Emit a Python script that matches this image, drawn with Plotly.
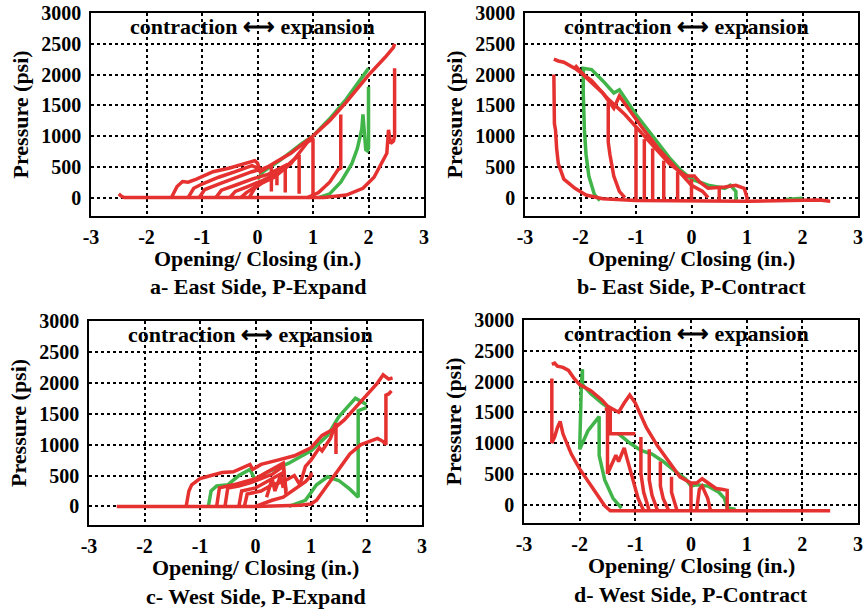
import plotly.graph_objects as go

# ---------------------------------------------------------------------------
# Axis ticks
X_TICKS = [-3, -2, -1, 0, 1, 2, 3]
X_TICK_TEXT = ["-3", "-2", "-1", "0", "1", "2", "3"]
Y_TICKS = [0, 500, 1000, 1500, 2000, 2500, 3000]
Y_TICK_TEXT = ["0", "500", "1000", "1500", "2000", "2500", "3000"]

# ---------------------------------------------------------------------------
# a- East Side, P-Expand : opening/closing (in.) vs pressure (psi)
EAST_EXPAND_GREEN = [
    ([0.0, 0.1, 0.4, 0.8, 1.0, 1.3, 1.6, 1.8, 1.95, 2.0],
     [300, 420, 600, 880, 1000, 1280, 1600, 1850, 2050, 2100]),
    ([1.1, 1.3, 1.5, 1.7, 1.8, 1.85, 1.88, 1.9, 1.92, 1.95, 1.98, 2.0, 2.0],
     [0, 60, 250, 550, 800, 1050, 1120, 1350, 1100, 780, 760, 800, 1800]),
]
EAST_EXPAND_RED = [
    ([-2.5, -2.45, -2.4, 1.2, 1.6, 1.9, 2.1, 2.25, 2.33, 2.36, 2.4, 2.45, 2.47, 2.47],
     [60, 20, 0, 0, 40, 150, 330, 600, 720, 1100, 880, 920, 1000, 2100]),
    ([-1.55, -1.45, -1.35, -1.25, -1.1, -0.8, -0.5, -0.2, -0.05, 0.0, 0.05, 0.3, 0.6,
      1.0, 1.3, 1.6, 2.0, 2.3, 2.45, 2.47],
     [0, 180, 260, 250, 300, 420, 480, 560, 600, 560, 420, 560, 720,
      1000, 1250, 1550, 1990, 2280, 2440, 2500]),
    ([-1.25, -1.15, -1.0, -0.7, -0.4, -0.1, 0.0],
     [0, 150, 220, 330, 420, 520, 480]),
    ([-1.05, -0.95, -0.7, -0.4, -0.1, 0.1, 0.25, 0.25],
     [0, 130, 220, 320, 420, 470, 520, 100]),
    ([-0.75, -0.65, -0.4, -0.1, 0.2, 0.5, 0.5],
     [0, 120, 200, 300, 380, 520, 80]),
    ([-0.5, -0.4, -0.2, 0.1, 0.4, 0.75, 0.75],
     [0, 100, 170, 280, 420, 690, 60]),
    ([-0.3, -0.2, 0.0, 0.3, 0.6, 0.9, 1.0, 1.0],
     [0, 80, 200, 330, 550, 900, 960, 0]),
    ([-0.15, -0.05, 0.1, 0.3, 0.35, 0.35],
     [0, 150, 250, 330, 360, 200]),
    ([0.9, 1.1, 1.3, 1.45, 1.5, 1.5],
     [0, 80, 250, 450, 480, 1350]),
]

# b- East Side, P-Contract
EAST_CONTRACT_GREEN = [
    ([-1.65, -1.75, -1.85, -1.9, -1.93, -1.95, -1.95, -1.95, -1.8, -1.6, -1.4, -1.3,
      -1.0, -0.7, -0.4, -0.2, 0.0, 0.3, 0.6, 0.7, 0.8, 0.8],
     [-50, 50, 350, 700, 1100, 1500, 1700, 2100, 2080, 1900, 1700, 1750,
      1350, 1000, 650, 450, 300, 200, 150, 200, 100, -50]),
    ([1.7, 2.0], [-30, -10]),
]
EAST_CONTRACT_RED = [
    ([2.5, 2.3, 1.0, 0.0, -1.0, -1.6, -1.9, -2.1, -2.3, -2.4, -2.43, -2.45, -2.47, -2.48],
     [-60, -40, -60, -60, -50, -20, 40, 150, 300, 550, 800, 1100, 1200, 2000]),
    ([-2.48, -2.4, -2.3, -2.1, -1.8, -1.5, -1.2, -1.0, -0.7, -0.4, -0.1, 0.05, 0.15,
      0.3, 0.6, 0.8, 0.95, 1.0, 1.0],
     [2250, 2220, 2200, 2100, 1900, 1600, 1350, 1150, 850, 550, 350, 350, 250,
      150, 170, 200, 150, 0, -60]),
    ([-2.1, -1.9, -1.6, -1.4, -1.35, -1.3, -1.1, -0.9, -0.6, -0.3, -0.1, 0.0, 0.2, 0.3],
     [2150, 1950, 1700, 1450, 1550, 1650, 1400, 1150, 800, 500, 300, 200, 100, 0]),
    ([-1.5, -1.5, -1.47, -1.4, -1.3, -1.2],
     [1550, 900, 700, 350, 100, 0]),
    ([-1.0, -1.0], [1150, -50]),
    ([-0.85, -0.85], [950, -50]),
    ([-0.7, -0.7], [800, -50]),
    ([-0.5, -0.5], [600, -50]),
    ([-0.25, -0.25], [420, -50]),
    ([0.0, 0.0], [300, -50]),
    ([0.5, 0.5], [150, -50]),
]

# c- West Side, P-Expand
WEST_EXPAND_GREEN = [
    ([-0.85, -0.8, -0.7, -0.5, -0.3, -0.1, 0.0, 0.2, 0.6, 1.0, 1.3, 1.5, 1.7, 1.8, 1.9, 2.0],
     [0, 250, 330, 350, 500, 600, 420, 550, 700, 900, 1150, 1450, 1650, 1750, 1700, 1650]),
    ([0.6, 0.9, 1.1, 1.3, 1.5, 1.7, 1.85, 1.85, 2.0],
     [0, 100, 350, 480, 420, 280, 150, 1550, 1600]),
]
WEST_EXPAND_RED = [
    ([-2.5, -1.2, 0.0, 0.8, 1.0, 1.1, 1.3, 1.5, 1.7, 1.9, 2.1, 2.2, 2.3, 2.35, 2.35, 2.4, 2.45],
     [0, 0, 0, 20, 40, 100, 350, 600, 850, 1000, 1070, 1100, 1050, 1000, 1800, 1820, 1870]),
    ([-1.25, -1.2, -1.15, -1.0, -0.8, -0.6, -0.4, -0.2, -0.1, -0.05, 0.1, 0.4, 0.7,
      1.0, 1.2, 1.4, 1.6, 1.8, 2.0, 2.2, 2.3, 2.4, 2.47],
     [0, 250, 350, 450, 500, 550, 560, 650, 680, 600, 680, 750, 820,
      950, 1150, 1250, 1400, 1600, 1800, 2000, 2130, 2060, 2080]),
    ([-0.7, -0.65, -0.4, -0.2, 0.0, 0.3, 0.5, 0.55],
     [0, 300, 350, 400, 450, 600, 700, 250]),
    ([-0.55, -0.5, -0.3, -0.1, 0.1, 0.3, 0.5, 0.55],
     [0, 300, 330, 380, 450, 520, 650, 200]),
    ([-0.3, -0.25, 0.0, 0.2, 0.4, 0.5],
     [0, 250, 300, 400, 500, 550]),
    ([-0.2, -0.15, 0.1, 0.3, 0.5, 0.7, 0.8, 0.9, 1.0, 1.15, 1.2, 1.35, 1.45, 1.45],
     [0, 200, 250, 350, 400, 500, 350, 650, 750, 950, 900, 1100, 1350, 850]),
    ([0.0, 0.3, 0.5, 0.7, 0.9, 1.0, 1.0],
     [0, 100, 150, 280, 400, 500, 550]),
    ([0.2, 0.3, 0.35, 0.45, 0.5],
     [150, 450, 250, 500, 300]),
]

# d- West Side, P-Contract
WEST_CONTRACT_GREEN = [
    ([-1.95, -1.8, -1.6, -1.45],
     [1950, 1800, 1650, 1550]),
    ([-1.95, -1.95, -1.97, -2.0, -1.85, -1.65, -1.65, -1.55, -1.4, -1.25],
     [1900, 2200, 1950, 900, 1200, 1430, 800, 400, 100, -60]),
    ([-1.3, -1.1, -0.9, -0.7, -0.5, -0.3, -0.1, 0.0, 0.1, 0.3, 0.5, 0.6, 0.65, 0.8],
     [1150, 1000, 880, 820, 700, 550, 420, 300, 320, 300, 200, 100, -50, -80]),
]
WEST_CONTRACT_RED = [
    ([2.5, 0.0, -1.45, -1.55, -1.7, -1.85, -2.0, -2.15, -2.3, -2.35, -2.4, -2.45, -2.5, -2.5],
     [-100, -100, -100, -20, 180, 400, 580, 820, 1150, 1350, 1250, 1100, 1000, 2050]),
    ([-2.5, -2.45, -2.4, -2.3, -2.2, -2.1, -2.0, -1.8, -1.6, -1.5, -1.4, -1.3, -1.2, -1.1,
      -1.0, -0.9, -0.8, -0.6, -0.4, -0.2, 0.0, 0.1, 0.2, 0.3, 0.45, 0.55, 0.65, 0.65],
     [2280, 2300, 2250, 2230, 2180, 2050, 1950, 1850, 1700, 1600, 1550, 1500, 1650, 1780,
      1650, 1450, 1250, 950, 700, 450, 350, 350, 420, 350, 260, 250, 230, -100]),
    ([-1.45, -1.45, -1.3, -1.1, -1.0],
     [1550, 1150, 1150, 1150, 1150]),
    ([-1.55, -1.5, -1.5, -1.35, -1.3, -1.2, -1.15, -1.05, -0.95, -0.85],
     [1550, 1550, 500, 800, 700, 920, 750, 400, 100, -100]),
    ([-0.9, -0.9, -0.85, -0.75],
     [1100, 500, 200, -100]),
    ([-0.75, -0.75, -0.7, -0.6],
     [900, 400, 150, -100]),
    ([-0.55, -0.55, -0.5, -0.4],
     [700, 300, 100, -100]),
    ([-0.35, -0.35, -0.3, -0.25],
     [450, 200, 50, -100]),
    ([0.0, 0.0], [350, -100]),
    ([0.1, 0.15, 0.2, 0.25, 0.3, 0.35],
     [-100, 250, 300, 200, 100, -100]),
]

RED = "#e5312f"
GREEN = "#41b54a"
FONT = "Liberation Serif"
W, H = 868, 610

# panel frames in pixels: left, right, top, bottom
PANELS = [
    ("a- East Side, P-Expand", (91, 424, 13, 216), EAST_EXPAND_GREEN, EAST_EXPAND_RED),
    ("b- East Side, P-Contract", (525, 858, 13, 216), EAST_CONTRACT_GREEN, EAST_CONTRACT_RED),
    ("c- West Side, P-Expand", (89, 422, 321, 525), WEST_EXPAND_GREEN, WEST_EXPAND_RED),
    ("d- West Side, P-Contract", (524, 858, 320, 523), WEST_CONTRACT_GREEN, WEST_CONTRACT_RED),
]


def px(x):
    return x / W


def py(y):
    return 1 - y / H


fig = go.Figure()
annotations = []
layout_axes = {}

for i, (caption, (l, r, t, b), greens, reds) in enumerate(PANELS, start=1):
    sfx = "" if i == 1 else str(i)
    xa, ya = "x" + sfx, "y" + sfx
    for xs, ys in greens:
        fig.add_trace(go.Scatter(x=xs, y=ys, mode="lines", xaxis=xa, yaxis=ya,
                                 line=dict(color=GREEN, width=3.5), showlegend=False,
                                 hoverinfo="skip"))
    for xs, ys in reds:
        fig.add_trace(go.Scatter(x=xs, y=ys, mode="lines", xaxis=xa, yaxis=ya,
                                 line=dict(color=RED, width=3.5), showlegend=False,
                                 hoverinfo="skip"))

    common = dict(showline=True, mirror=True, linecolor="black", linewidth=1.5,
                  showgrid=True, gridcolor="black", gridwidth=1.5, griddash="dot",
                  zeroline=False, ticks="", automargin=False,
                  tickfont=dict(family=FONT, size=20, color="black", weight="bold"))
    layout_axes["xaxis" + sfx] = dict(common, domain=[px(l), px(r)], anchor=ya,
                                      range=[-3, 3], tickvals=X_TICKS, ticktext=X_TICK_TEXT,
                                      ticklabelstandoff=2)
    layout_axes["yaxis" + sfx] = dict(common, domain=[py(b), py(t)], anchor=xa,
                                      range=[-300, 3000], tickvals=Y_TICKS, ticktext=Y_TICK_TEXT,
                                      ticklabelstandoff=4)

    cx = (l + r) / 2
    title_font = dict(family=FONT, size=22, color="black", weight="bold")
    centered = dict(xref="paper", yref="paper", xanchor="center", yanchor="middle",
                    showarrow=False, font=title_font)
    annotations += [
        dict(centered, text="contraction ⟷ expansion", x=px(cx - 5), y=py(t + 13)),
        dict(centered, text="Opening/ Closing (in.)", x=px(cx), y=py(b + 42)),
        dict(centered, text=caption, x=px(cx), y=py(b + 71)),
        dict(centered, text="Pressure (psi)", x=px(l - 71), y=py((t + b) / 2),
             textangle=-90),
    ]

fig.update_layout(width=W, height=H, margin=dict(l=0, r=0, t=0, b=0),
                  paper_bgcolor="white", plot_bgcolor="white",
                  annotations=annotations, **layout_axes)

fig.write_html("out.html")
